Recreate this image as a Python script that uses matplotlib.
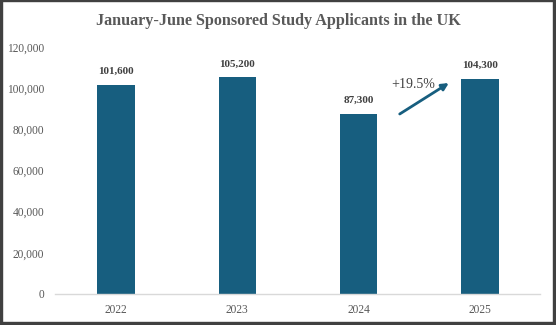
import matplotlib
matplotlib.use("Agg")
import matplotlib.pyplot as plt
from matplotlib.patches import Rectangle

years = ["2022", "2023", "2024", "2025"]
applicants = [101600, 105200, 87300, 104300]
value_labels = ["101,600", "105,200", "87,300", "104,300"]
yticks = [0, 20000, 40000, 60000, 80000, 100000, 120000]
ytick_labels = ["0", "20,000", "40,000", "60,000", "80,000", "100,000", "120,000"]
change_label = "+19.5%"

plt.rcParams['font.family'] = ['Liberation Serif', 'DejaVu Serif']

bar_color = '#175e7f'
text_gray = '#595959'

fig = plt.figure(figsize=(5.56, 3.25), dpi=100)
ax = fig.add_axes([0.0998, 0.0954, 0.8723, 0.7600])

x = list(range(len(years)))
ax.bar(x, applicants, width=0.31, color=bar_color, zorder=2)
ax.set_xlim(-0.5, len(years) - 0.5)
ax.set_ylim(0, 120000)
ax.set_yticks(yticks)
ax.set_yticklabels(ytick_labels)
ax.set_xticks(x)
ax.set_xticklabels(years)
ax.tick_params(axis='both', length=0, labelsize=8.3, labelcolor=text_gray)
ax.tick_params(axis='y', pad=8)
ax.tick_params(axis='x', pad=7.5)
for s in ['top', 'right', 'left']:
    ax.spines[s].set_visible(False)
ax.spines['bottom'].set_color('#d9d9d9')
ax.spines['bottom'].set_linewidth(1.0)

for xi, v, lab in zip(x, applicants, value_labels):
    ax.annotate(lab, (xi, v), xytext=(0, 8), textcoords='offset points',
                ha='center', va='baseline', fontsize=8, fontweight='bold',
                color='#404040')

# change arrow between 2024 and 2025
ax.annotate('', xy=(2.744, 102500), xytext=(2.339, 87450),
            arrowprops=dict(arrowstyle='-|>', color=bar_color, lw=2,
                            mutation_scale=10, shrinkA=0, shrinkB=0))
ax.text(2.45, 102000, change_label, ha='center', va='center',
        fontsize=10, color='#404040')

fig.text(0.5, 0.935, "January-June Sponsored Study Applicants in the UK",
         ha='center', va='center', fontsize=11.6, fontweight='bold', color=text_gray)

# border with shadow
bc = '#404040'
W, H = 556.0, 325.0
fig.patches.append(Rectangle((0, 0), 2 / W, 1, transform=fig.transFigure, color=bc, zorder=10))
fig.patches.append(Rectangle((0, 1 - 1 / H), 1, 1 / H, transform=fig.transFigure, color=bc, zorder=10))
fig.patches.append(Rectangle((1 - 3 / W, 0), 3 / W, 1, transform=fig.transFigure, color=bc, zorder=10))
fig.patches.append(Rectangle((0, 0), 1, 3 / H, transform=fig.transFigure, color=bc, zorder=10))

fig.savefig("out.png", dpi=100)
